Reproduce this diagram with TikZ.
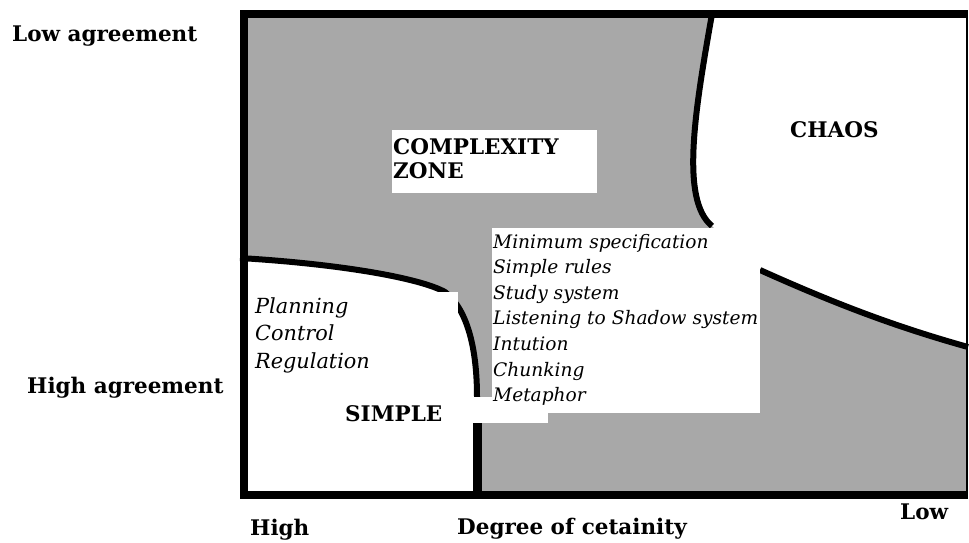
\documentclass[tikz,border=0pt]{standalone}
\usepackage{fontspec}
\setmainfont{DejaVu Serif}
\usepackage{xcolor}
\definecolor{zonegray}{RGB}{168,168,168}

\begin{document}
\begin{tikzpicture}[x=1pt,y=-1pt,
    boundary/.style={line width=6pt},
    frameline/.style={line width=8pt},
    whitebox/.style={fill=white,inner sep=0pt,anchor=north west},
    boldlabel/.style={font=\fontsize{21.5}{23}\selectfont\bfseries,inner sep=0pt,anchor=base west},
    itemtext/.style={font=\fontsize{18.6}{20}\selectfont\itshape,inner sep=0pt,anchor=base west},
    plantext/.style={itemtext,font=\fontsize{20.8}{22}\selectfont\itshape}]
  \useasboundingbox (0,0) rectangle (969,542);

  % Zones
  \fill[zonegray] (244,14) rectangle (968,495);
  \fill[white] (712,14) .. controls (695,110) and (680,200) .. (712,226)
      -- (760,270) .. controls (840,306) and (900,328) .. (968,347) -- (968,14) -- cycle;
  \fill[white] (244,258) .. controls (340,264) and (420,278) .. (445,292)
      .. controls (468,310) and (477,350) .. (477,397) -- (477,495) -- (244,495) -- cycle;

  % Borders between zones
  \draw[boundary] (712,14) .. controls (695,110) and (680,200) .. (712,226);
  \draw[boundary] (760,270) .. controls (840,306) and (900,328) .. (968,347);
  \draw[boundary] (240,258) .. controls (340,264) and (420,278) .. (445,292)
      .. controls (468,310) and (477,350) .. (477,397);
  \draw[line width=9pt] (477,397) -- (477,495);

  % Text boxes
  \node[whitebox,minimum width=205,minimum height=63] (zonebox) at (392,130) {};
  \node[whitebox,minimum width=268,minimum height=185] (listbox) at (492,228) {};
  \node[whitebox,minimum width=28,minimum height=105] (planbox) at (430,292) {};
  \node[whitebox,minimum width=208,minimum height=26] (simplebox) at (340,397) {};

  % Frame
  \draw[frameline] (244,10) -- (244,499);
  \draw[frameline] (240,14) -- (968,14);
  \draw[frameline] (240,495) -- (968,495);
  \draw[line width=2pt] (967,10) -- (967,495);

  % Zone names
  \node[boldlabel] (complexity) at (393,154) {COMPLEXITY};
  \node[boldlabel] (zone) at (393,178) {ZONE};
  \node[boldlabel] (chaos) at (790,137) {CHAOS};
  \node[boldlabel] (simple) at (345,421) {SIMPLE};

  % Axis labels
  \node[boldlabel] (lowagree) at (12,41) {Low agreement};
  \node[boldlabel] (highagree) at (27,393) {High agreement};
  \node[boldlabel] (high) at (250,535) {High};
  \node[boldlabel] (degree) at (457,534) {Degree of cetainity};
  \node[boldlabel] (low) at (900,519) {Low};

  % Methods
  \node[plantext] (planning) at (255,313) {Planning};
  \node[plantext] (control) at (255,340) {Control};
  \node[plantext] (regulation) at (255,368) {Regulation};
  \foreach \t [count=\i] in {Minimum specification,Simple rules,Study system,
      Listening to Shadow system,Intution,Chunking,Metaphor} {
    \node[itemtext] (item\i) at (493,{248+25.6*(\i-1)}) {\t};
  }
\end{tikzpicture}
\end{document}
